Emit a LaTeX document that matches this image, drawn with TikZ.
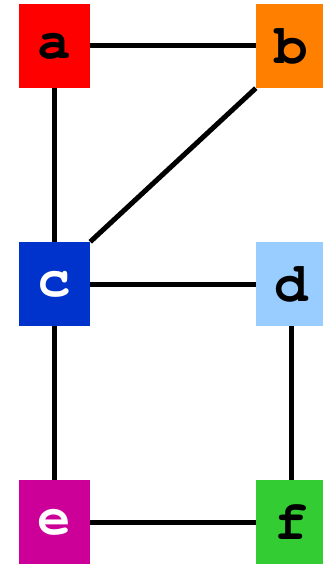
\documentclass[tikz,border=0pt]{standalone}
\usepackage{fontspec}
\newfontfamily\cursorfont{texgyrecursor}[Extension=.otf, UprightFont=*-regular, BoldFont=*-bold]
\definecolor{ca}{HTML}{FF0000}
\definecolor{cb}{HTML}{FF8000}
\definecolor{cc}{HTML}{0033CC}
\definecolor{cd}{HTML}{99CCFF}
\definecolor{ce}{HTML}{CC0099}
\definecolor{cf}{HTML}{33CC33}
\tikzset{
  vbox/.style={rectangle, inner sep=0pt, minimum width=71pt, minimum height=84pt,
    font=\cursorfont\bfseries\fontsize{56}{56}\selectfont},
  edge/.style={line width=5pt, black}
}
\begin{document}
\begin{tikzpicture}[x=1pt,y=-1pt]
\useasboundingbox (0,0) rectangle (323,564);
\begin{scope}
\clip (0,0) rectangle (323,564);
\node[vbox, fill=ca] (a) at (54.5,46) {a};
\node[vbox, fill=cb] (b) at (291.5,46) {b};
\node[vbox, fill=cc, text=white] (c) at (54.5,284) {c};
\node[vbox, fill=cd] (d) at (291.5,284) {d};
\node[vbox, fill=ce, text=white] (e) at (54.5,522) {e};
\node[vbox, fill=cf] (f) at (291.5,522) {f};
\draw[edge] (a) -- (b);
\draw[edge] (a) -- (c);
\draw[edge] (b.south west) -- (c.north east);
\draw[edge] (c) -- (d);
\draw[edge] (c) -- (e);
\draw[edge] (d) -- (f);
\draw[edge] (e) -- (f);
\end{scope}
\end{tikzpicture}
\end{document}
